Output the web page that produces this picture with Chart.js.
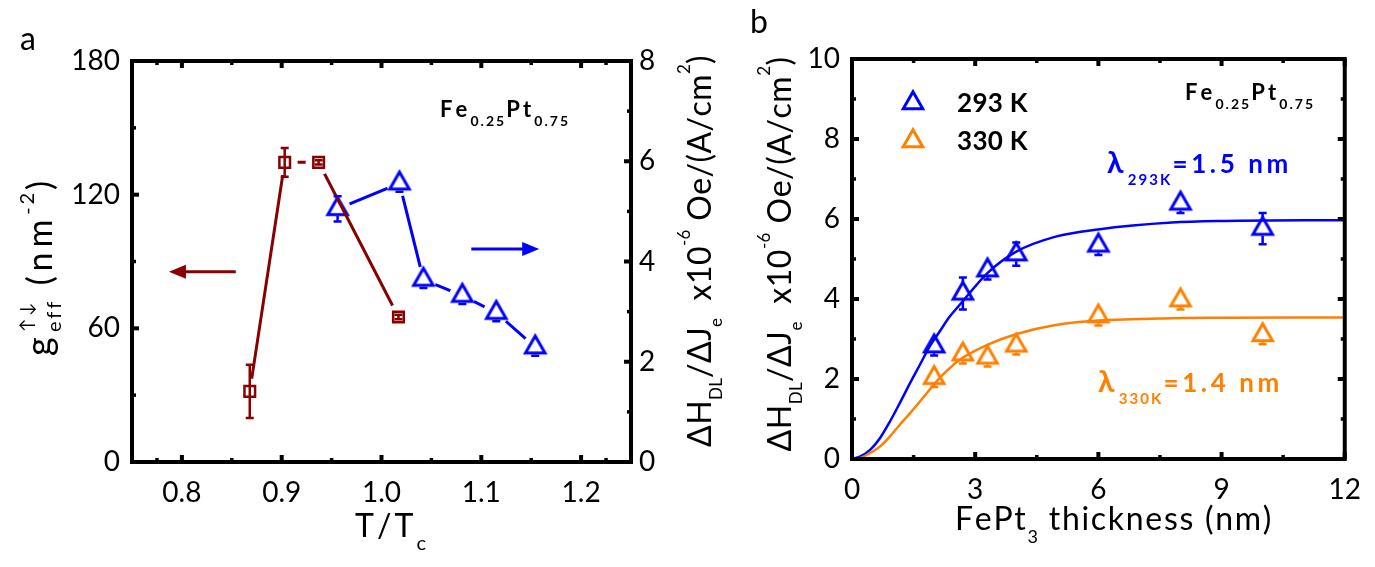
<!DOCTYPE html>
<html lang="en">
<head>
<meta charset="UTF-8">
<title>FePt3 spin mixing conductance and damping-like torque</title>
<script src="https://cdn.jsdelivr.net/npm/chart.js@4.4.0/dist/chart.umd.min.js"></script>
<style>
  body { margin: 0; background: #fff; width: 1375px; height: 567px; position: relative; overflow: hidden; }
  canvas { position: absolute; top: 0; }
  #panelA { left: 0; }
  #panelB { left: 730px; }
</style>
</head>
<body>
<canvas id="panelA" width="730" height="567"></canvas>
<canvas id="panelB" width="645" height="567"></canvas>
<script>
// ---- panel a : T/Tc dependence ----
const ratioG = [0.868, 0.903, 0.937, 1.017];
const gEff = [31.7, 134.5, 134.5, 65.1];
const gEffErr = [12, 6.5, 1, 1];
const ratioH = [0.956, 1.018, 1.042, 1.081, 1.115, 1.154];
const hRatio = [5.05, 5.56, 3.64, 3.32, 2.98, 2.29];
const hRatioErr = [0.25, 0.17, 0.17, 0.17, 0.17, 0.17];
const ticksRatio = [0.8, 0.9, 1.0, 1.1, 1.2];
const ticksG = [0, 60, 120, 180];
const ticksH = [0, 2, 4, 6, 8];
// arrows pointing to the axis each series belongs to
const arrowG = { from: 0.854, to: 0.787, at: 85.4 };
const arrowH = { from: 1.09, to: 1.158, at: 4.25 };

// ---- panel b : thickness dependence ----
const thickness = [2, 2.7, 3.3, 4, 6, 8, 10];
const h293 = [2.82, 4.14, 4.72, 5.12, 5.34, 6.39, 5.76];
const h293Err = [0.23, 0.4, 0.23, 0.29, 0.24, 0.24, 0.39];
const h330 = [2.03, 2.62, 2.54, 2.84, 3.57, 3.97, 3.10];
const h330Err = [0.23, 0.23, 0.23, 0.23, 0.23, 0.23, 0.23];
const fitX = [0, 0.19, 0.44, 0.68, 0.92, 1.16, 1.41, 1.65, 1.89, 2.13, 2.38, 2.62, 3.31, 3.99, 4.96, 5.99, 7.79, 9.07, 12];
const fit293 = [0, 0.06, 0.23, 0.52, 0.93, 1.39, 1.89, 2.35, 2.81, 3.18, 3.56, 3.85, 4.66, 5.18, 5.56, 5.74, 5.91, 5.95, 5.97];
const fit330 = [0, 0.02, 0.15, 0.31, 0.56, 0.85, 1.14, 1.43, 1.73, 2.02, 2.27, 2.48, 2.86, 3.12, 3.35, 3.46, 3.52, 3.53, 3.54];
const ticksT = [0, 3, 6, 9, 12];
const ticksHb = [0, 2, 4, 6, 8, 10];

const BROWN = '#880000', BLUE = '#0000ff', ORANGE = '#ff8000';
const FONT = 'Lato, "Noto Sans", "DejaVu Sans", sans-serif';
const fontOf = (size, bold) => (bold ? 'bold ' : '') + size + 'px ' + FONT;
const pts = (xs, ys) => xs.map((x, i) => ({ x, y: ys[i] }));
const mids = arr => arr.slice(1).map((v, i) => (v + arr[i]) / 2);

Chart.defaults.font.family = FONT;
Chart.defaults.color = '#000';

// hollow triangle marker, centred on its centroid
const TRI_W = 19.5, TRI_H = 17;
function triangle(color) {
  const c = document.createElement('canvas');
  c.width = 30; c.height = 30;
  const g = c.getContext('2d');
  g.strokeStyle = color; g.lineWidth = 3; g.lineJoin = 'miter';
  g.beginPath();
  g.moveTo(15, 15 - TRI_H * 2 / 3);
  g.lineTo(15 - TRI_W / 2, 15 + TRI_H / 3);
  g.lineTo(15 + TRI_W / 2, 15 + TRI_H / 3);
  g.closePath();
  g.stroke();
  return c;
}

// rich text: parts with sub/superscripts, spread to a given span
function layoutRich(ctx, parts, sp, bold) {
  const glyphs = [];
  let x = 0, segStart = 0, segEnd = 0;
  for (const p of parts) {
    const f = fontOf(p.size, p.bold !== undefined ? p.bold : bold);
    ctx.font = f;
    const start = p.stack ? segStart : x;
    let cx = start;
    for (const ch of p.t) {
      glyphs.push({ ch, x: cx, dy: p.dy || 0, font: f });
      cx += ctx.measureText(ch).width + sp * p.size;
    }
    if (p.stack) x = Math.max(segEnd, cx);
    else { segStart = start; segEnd = cx; x = cx; }
  }
  return { glyphs, width: x };
}
function drawRich(ctx, it) {
  ctx.save();
  ctx.translate(it.x, it.y);
  if (it.angle) ctx.rotate(it.angle);
  let sp = 0;
  if (it.span) {
    const n = it.parts.reduce((s, p) => s + (p.stack ? 0 : p.t.length * p.size), 0);
    for (let k = 0; k < 3; k++) sp += (it.span - layoutRich(ctx, it.parts, sp, it.bold).width) / n;
  }
  const L = layoutRich(ctx, it.parts, sp, it.bold);
  const off = it.align === 'center' ? -L.width / 2 : 0;
  ctx.fillStyle = it.color || '#000';
  ctx.textAlign = 'left'; ctx.textBaseline = 'alphabetic';
  L.glyphs.forEach(g => { ctx.font = g.font; ctx.fillText(g.ch, off + g.x, g.dy); });
  ctx.restore();
}

const textPlugin = {
  id: 'texts',
  afterDraw(chart, args, o) { (o.items || []).forEach(it => drawRich(chart.ctx, it)); }
};

const framePlugin = {
  id: 'frame',
  afterDatasetsDraw(chart, args, o) {
    const { ctx, chartArea: a } = chart;
    const sx = chart.scales.x, sl = chart.scales[o.left], sr = chart.scales[o.right];
    ctx.save();
    ctx.strokeStyle = '#000';
    const vTicks = (vals, len, w) => vals.forEach(v => {
      const p = sx.getPixelForValue(v);
      ctx.lineWidth = w; ctx.beginPath();
      ctx.moveTo(p, a.bottom); ctx.lineTo(p, a.bottom - len);
      ctx.moveTo(p, a.top); ctx.lineTo(p, a.top + len);
      ctx.stroke();
    });
    const hTicks = (scale, vals, len, w, left) => vals.forEach(v => {
      const p = scale.getPixelForValue(v);
      const e = left ? a.left : a.right;
      ctx.lineWidth = w; ctx.beginPath();
      ctx.moveTo(e, p); ctx.lineTo(left ? e + len : e - len, p);
      ctx.stroke();
    });
    vTicks(o.xTicks, 7, 4); vTicks(mids(o.xTicks), 4, 3.5);
    hTicks(sl, o.leftTicks, 7, 4, true); hTicks(sl, mids(o.leftTicks), 4, 3.5, true);
    hTicks(sr, o.rightTicks, 7, 4, false); hTicks(sr, mids(o.rightTicks), 4, 3.5, false);
    ctx.lineWidth = 4;
    ctx.strokeRect(a.left, a.top, a.right - a.left, a.bottom - a.top);
    ctx.restore();
  }
};

// error bars; the part hidden behind a hollow marker (above/below extents) is skipped
const errPlugin = {
  id: 'errbars',
  afterDatasetsDraw(chart, args, o) {
    const ctx = chart.ctx;
    ctx.save();
    (o.sets || []).forEach(s => {
      const ds = chart.data.datasets[s.index];
      const scale = chart.scales[ds.yAxisID || 'y'];
      const meta = chart.getDatasetMeta(s.index);
      const above = s.above || 0, below = s.below || 0;
      ctx.strokeStyle = ds.pointBorderColor || ds.borderColor;
      ctx.lineWidth = 2.5;
      meta.data.forEach((pt, i) => {
        const v = ds.data[i].y;
        const top = scale.getPixelForValue(v + s.err[i]);
        const bot = scale.getPixelForValue(v - s.err[i]);
        ctx.beginPath();
        if (top < pt.y - above) {
          ctx.moveTo(pt.x, top); ctx.lineTo(pt.x, pt.y - above);
          ctx.moveTo(pt.x - 4, top); ctx.lineTo(pt.x + 4, top);
        }
        if (bot > pt.y + below) {
          ctx.moveTo(pt.x, pt.y + below); ctx.lineTo(pt.x, bot);
          ctx.moveTo(pt.x - 4, bot); ctx.lineTo(pt.x + 4, bot);
        }
        ctx.stroke();
      });
    });
    ctx.restore();
  }
};

const arrowPlugin = {
  id: 'arrows',
  afterDatasetsDraw(chart, args, o) {
    const ctx = chart.ctx;
    (o.items || []).forEach(it => {
      const x0 = chart.scales.x.getPixelForValue(it.from);
      const x1 = chart.scales.x.getPixelForValue(it.to);
      const y = chart.scales[it.axis].getPixelForValue(it.at);
      const d = Math.sign(x1 - x0);
      ctx.save();
      ctx.strokeStyle = it.color; ctx.fillStyle = it.color; ctx.lineWidth = 3;
      ctx.beginPath(); ctx.moveTo(x0, y); ctx.lineTo(x1 - d * 12, y); ctx.stroke();
      ctx.beginPath(); ctx.moveTo(x1, y); ctx.lineTo(x1 - d * 17, y - 7); ctx.lineTo(x1 - d * 17, y + 7); ctx.closePath(); ctx.fill();
      ctx.restore();
    });
  }
};

const legendPlugin = {
  id: 'markLegend',
  afterDraw(chart, args, o) {
    (o.items || []).forEach(it => {
      chart.ctx.drawImage(it.img, it.x - it.img.width / 2, it.y - it.img.height / 2);
    });
  }
};

function linAxis(min, max, ticks, pos, size, pad, fmt) {
  const ax = {
    type: 'linear', position: pos, min, max,
    grid: { display: false, drawTicks: false }, border: { display: false },
    ticks: { font: { size: 28 }, padding: pad, color: '#000' },
    afterBuildTicks: s => { s.ticks = ticks.map(v => ({ value: v })); },
    afterFit: s => { if (pos === 'bottom') s.height = size; else s.width = size; }
  };
  if (fmt) ax.ticks.callback = fmt;
  return ax;
}

const rightTitle = [
  { t: 'ΔH', size: 32 }, { t: 'DL', size: 17, dy: 11 }, { t: '/ΔJ', size: 32 }, { t: 'e', size: 17, dy: 11 },
  { t: '  x10', size: 32 }, { t: '-6', size: 17, dy: -21 }, { t: ' Oe/(A/cm', size: 32 },
  { t: '2', size: 17, dy: -21 }, { t: ')', size: 32 }
];
const feLabel = [
  { t: 'Fe', size: 22 }, { t: '0.25', size: 14, dy: 9 }, { t: 'Pt', size: 22 }, { t: '0.75', size: 14, dy: 9 }
];

const triBlue = triangle(BLUE), triOrange = triangle(ORANGE);
const TRI_SKIP = { above: TRI_H * 2 / 3, below: TRI_H / 3 + 1.5 };

// ---------------- panel a ----------------
new Chart(document.getElementById('panelA'), {
  type: 'scatter',
  data: {
    datasets: [
      { data: pts(ratioH, hRatio), yAxisID: 'y2', showLine: true, borderColor: BLUE, borderWidth: 3, pointRadius: 0, order: 6 },
      { data: pts(ratioH, hRatio), yAxisID: 'y2', pointRadius: 13, pointBackgroundColor: '#fff', pointBorderWidth: 0, order: 5 },
      { label: 'ΔH/ΔJ', data: pts(ratioH, hRatio), yAxisID: 'y2', pointStyle: triBlue, pointRadius: 10, pointBorderColor: BLUE, order: 4 },
      { data: pts(ratioG, gEff), yAxisID: 'y', showLine: true, borderColor: BROWN, borderWidth: 3, pointRadius: 0, order: 3 },
      { data: pts(ratioG, gEff), yAxisID: 'y', pointRadius: 13, pointBackgroundColor: '#fff', pointBorderWidth: 0, order: 2 },
      { label: 'g_eff', data: pts(ratioG, gEff), yAxisID: 'y', pointStyle: 'rect', pointRadius: 7.5, pointBorderWidth: 2.5,
        pointBorderColor: BROWN, pointBackgroundColor: 'rgba(0,0,0,0)', order: 1 }
    ]
  },
  options: {
    responsive: false, animation: false, events: [],
    layout: { padding: { top: 61, left: 0, right: 0, bottom: 0 } },
    scales: {
      x: linAxis(0.75, 1.25, ticksRatio, 'bottom', 105, 14, v => v.toFixed(1)),
      y: linAxis(0, 180, ticksG, 'left', 132, 12),
      y2: linAxis(0, 8, ticksH, 'right', 99, 8)
    },
    plugins: {
      legend: { display: false }, tooltip: { enabled: false },
      frame: { left: 'y', right: 'y2', xTicks: [0.75, ...ticksRatio, 1.25], leftTicks: ticksG, rightTicks: ticksH },
      errbars: { sets: [{ index: 2, err: hRatioErr, ...TRI_SKIP }, { index: 5, err: gEffErr }] },
      arrows: { items: [
        { from: arrowG.from, to: arrowG.to, at: arrowG.at, axis: 'y', color: BROWN },
        { from: arrowH.from, to: arrowH.to, at: arrowH.at, axis: 'y2', color: BLUE }
      ] },
      texts: { items: [
        { parts: [{ t: 'a', size: 32 }], x: 20, y: 50 },
        { parts: [{ t: 'g', size: 36 }, { t: '↑↓', size: 18, dy: -19 }, { t: 'eff', size: 20, dy: 9, stack: true },
                  { t: ' (nm', size: 34 }, { t: '-2', size: 20, dy: -18 }, { t: ')', size: 34 }],
          x: 52, y: 266, angle: -Math.PI / 2, align: 'center', span: 180 },
        { parts: rightTitle, x: 711, y: 251, angle: -Math.PI / 2, align: 'center', span: 392 },
        { parts: [{ t: 'T/T', size: 32 }, { t: 'c', size: 20, dy: 13 }], x: 355, y: 537, span: 73 },
        { parts: feLabel, x: 440, y: 117, bold: true, span: 130 }
      ] }
    }
  },
  plugins: [framePlugin, errPlugin, arrowPlugin, textPlugin]
});

// ---------------- panel b ----------------
new Chart(document.getElementById('panelB'), {
  type: 'scatter',
  data: {
    datasets: [
      { data: pts(fitX, fit293), showLine: true, borderColor: BLUE, borderWidth: 2.5, pointRadius: 0,
        cubicInterpolationMode: 'monotone', order: 4 },
      { data: pts(fitX, fit330), showLine: true, borderColor: ORANGE, borderWidth: 2.5, pointRadius: 0,
        cubicInterpolationMode: 'monotone', order: 3 },
      { label: '293 K', data: pts(thickness, h293), pointStyle: triBlue, pointRadius: 10, pointBorderColor: BLUE, order: 2 },
      { label: '330 K', data: pts(thickness, h330), pointStyle: triOrange, pointRadius: 10, pointBorderColor: ORANGE, order: 1 }
    ]
  },
  options: {
    responsive: false, animation: false, events: [],
    layout: { padding: { top: 59, left: 0, right: 28, bottom: 0 } },
    scales: {
      x: linAxis(0, 12, ticksT, 'bottom', 108, 14),
      y: linAxis(0, 10, ticksHb, 'left', 122, 12)
    },
    plugins: {
      legend: { display: false }, tooltip: { enabled: false },
      frame: { left: 'y', right: 'y', xTicks: ticksT, leftTicks: ticksHb, rightTicks: ticksHb },
      errbars: { sets: [{ index: 2, err: h293Err, ...TRI_SKIP }, { index: 3, err: h330Err, ...TRI_SKIP }] },
      markLegend: { items: [{ img: triBlue, x: 183, y: 103 }, { img: triOrange, x: 183, y: 141 }] },
      texts: { items: [
        { parts: [{ t: 'b', size: 32 }], x: 20, y: 33 },
        { parts: rightTitle, x: 61, y: 254, angle: -Math.PI / 2, align: 'center', span: 395 },
        { parts: [{ t: 'FePt', size: 32 }, { t: '3', size: 18, dy: 13 }, { t: ' thickness (nm)', size: 32 }], x: 225, y: 530, span: 318 },
        { parts: feLabel, x: 455, y: 100, bold: true, span: 130 },
        { parts: [{ t: '293 K', size: 26 }], x: 227, y: 112, bold: true, span: 71 },
        { parts: [{ t: '330 K', size: 26 }], x: 227, y: 150, bold: true, span: 71 },
        { parts: [{ t: 'λ', size: 30 }, { t: '293K', size: 15, dy: 12 }, { t: '=1.5 nm', size: 26 }],
          x: 377, y: 173, bold: true, color: BLUE, span: 185 },
        { parts: [{ t: 'λ', size: 30 }, { t: '330K', size: 15, dy: 12 }, { t: '=1.4 nm', size: 26 }],
          x: 368, y: 392, bold: true, color: ORANGE, span: 185 }
      ] }
    }
  },
  plugins: [framePlugin, errPlugin, legendPlugin, textPlugin]
});
</script>
</body>
</html>
